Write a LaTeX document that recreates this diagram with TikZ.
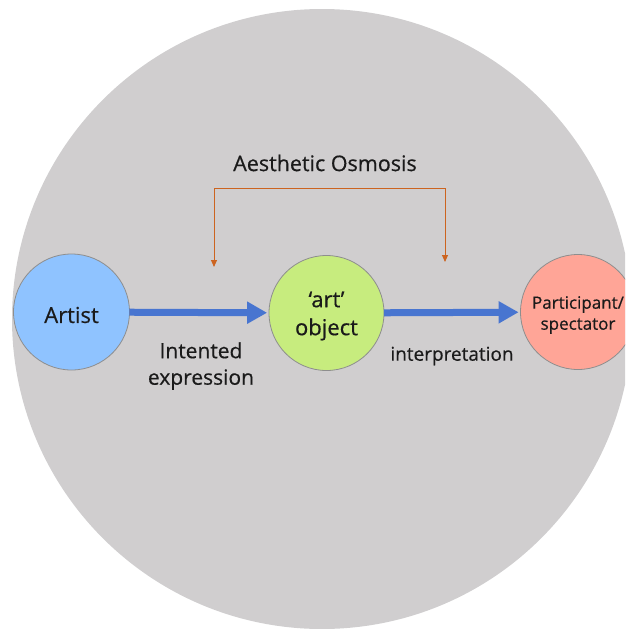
\documentclass[tikz,border=0pt]{standalone}
\usepackage{fontspec}
\setmainfont[FakeBold=0.5]{Open Sans}
\usetikzlibrary{arrows.meta}

\definecolor{bgdisc}{HTML}{D0CECF}
\definecolor{rim}{HTML}{8E8E8E}
\definecolor{artistfill}{HTML}{8FC3FF}
\definecolor{objectfill}{HTML}{C7EC7E}
\definecolor{viewerfill}{HTML}{FFA597}
\definecolor{flowblue}{HTML}{4875D0}
\definecolor{osmosis}{HTML}{CC6420}
\definecolor{ink}{HTML}{1A1A1A}

\tikzset{
  agent/.style={circle, draw=rim, line width=0.8pt, minimum size=116pt,
    inner sep=0pt},
  agenttext/.style={text=ink, align=center, inner sep=0pt, yshift=-3pt},
  flow/.style={draw=flowblue, line width=7pt,
    -{Triangle[length=20pt,width=21pt]}, shorten <=-0.5pt, shorten >=1.5pt},
  osmosisline/.style={draw=osmosis, line width=1pt,
    {Triangle[length=7pt,width=6pt]}-{Triangle[length=7pt,width=6pt]}},
  caption/.style={text=ink, align=center, inner sep=0pt}
}

\begin{document}
\begin{tikzpicture}[x=1pt,y=-1pt]
  \useasboundingbox (0,0) rectangle (625,629);
  \clip (0,0) rectangle (625,629);

  % background disc
  \fill[bgdisc] (322,319) circle (310);

  % the three agents
  \node[agent, fill=artistfill,
    label={[agenttext, font=\fontsize{22}{26}\selectfont]center:Artist}]
    (artist) at (71.5,312) {};
  \node[agent, fill=objectfill, minimum size=115pt,
    label={[agenttext, font=\fontsize{22}{26}\selectfont]center:{‘art’\\[2pt]object}}]
    (object) at (326.5,313) {};
  \node[agent, fill=viewerfill, minimum size=115pt,
    label={[agenttext, font=\fontsize{17}{21}\selectfont]center:{Participant/\\spectator}}]
    (viewer) at (578,312) {};

  % main flow
  \draw[flow] (artist) -- (object);
  \draw[flow] (object) -- (viewer);

  % flow labels
  \node[caption, font=\fontsize{21}{26.5}\selectfont] (intent) at (201,366)
    {Intented\\expression};
  \node[caption, font=\fontsize{19}{23}\selectfont] (interp) at (452,356)
    {interpretation};

  % aesthetic osmosis bracket
  \node[caption, font=\fontsize{21.5}{26}\selectfont] (osmtitle) at (325,163)
    {Aesthetic Osmosis};
  \coordinate (osmL) at (214,267);
  \coordinate (osmR) at (445,262);
  \draw[osmosisline] (osmL) -- (214,188) -| (osmR);
\end{tikzpicture}
\end{document}
